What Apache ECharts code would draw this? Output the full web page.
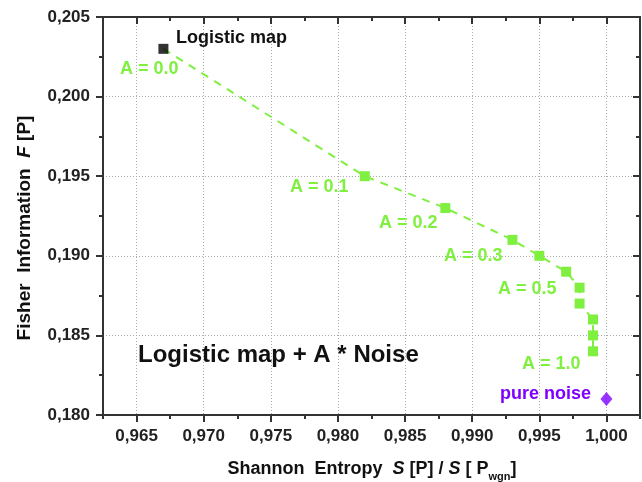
<!DOCTYPE html>
<html><head><meta charset="utf-8">
<script src="https://cdn.jsdelivr.net/npm/echarts@6/dist/echarts.min.js"></script>
<style>html,body{margin:0;padding:0;background:#fff}#c{width:642px;height:482px}</style>
</head><body><div id="c"></div>
<script>
// ---- data ----
const entropy = [0.967, 0.982, 0.988, 0.993, 0.995, 0.997, 0.998, 0.998, 0.999, 0.999, 0.999];
const fisher  = [0.203, 0.195, 0.193, 0.191, 0.190, 0.189, 0.188, 0.187, 0.186, 0.185, 0.184];
const logisticPoint = [0.967, 0.203];
const noisePoint = [1.000, 0.181];
const xMajorTicks = [0.965, 0.970, 0.975, 0.980, 0.985, 0.990, 0.995, 1.000];
const xMinorTicks = [0.9625, 0.9675, 0.9725, 0.9775, 0.9825, 0.9875, 0.9925, 0.9975, 1.0025];
const yMajorTicks = [0.180, 0.185, 0.190, 0.195, 0.200, 0.205];
const yMinorTicks = [0.1825, 0.1875, 0.1925, 0.1975, 0.2025];

const FONT = '"Liberation Sans", Arial, sans-serif';
const GREEN = '#80f040';
const PURPLE = '#7f00ff';
const fmt = v => v.toFixed(3).replace('.', ',');

function xAx(pos, custom, len, inside, showLine, showLabel, split) {
  return {
    type: 'value', position: pos, min: 0.9625, max: 1.0025, interval: 0.0025,
    axisLine: {show: showLine, onZero: false, lineStyle: {color: '#333', width: 2}},
    axisTick: {show: true, inside: inside, length: len, customValues: custom, lineStyle: {color: '#333', width: 2}},
    axisLabel: showLabel ? {show: true, customValues: xMajorTicks, formatter: fmt, margin: 13,
      fontFamily: FONT, fontWeight: 'bold', fontSize: 17, color: '#222'} : {show: false},
    splitLine: {show: split, lineStyle: {color: '#aaa', type: [1, 2], width: 1}}
  };
}
function yAx(pos, custom, len, inside, showLine, showLabel, split) {
  return {
    type: 'value', position: pos, min: 0.180, max: 0.205, interval: 0.0025,
    axisLine: {show: showLine, onZero: false, lineStyle: {color: '#333', width: 2}},
    axisTick: {show: true, inside: inside, length: len, customValues: custom, lineStyle: {color: '#333', width: 2}},
    axisLabel: showLabel ? {show: true, customValues: yMajorTicks, formatter: fmt, margin: 13,
      fontFamily: FONT, fontWeight: 'bold', fontSize: 17, color: '#222'} : {show: false},
    splitLine: {show: split, lineStyle: {color: '#aaa', type: [1, 2], width: 1}}
  };
}

const chart = echarts.init(document.getElementById('c'), null, {renderer: 'canvas'});
const lineData = entropy.map((x, i) => i === 0 ? {value: [x, fisher[i]], symbol: 'none'} : [x, fisher[i]]);

function txt(text, x, y, color, size, opts) {
  return Object.assign({type: 'text', x: x, y: y, z: 100,
    style: {text: text, fill: color, font: 'bold ' + size + 'px ' + FONT, textAlign: 'left', textVerticalAlign: 'middle'}}, opts || {});
}

chart.setOption({
  animation: false,
  backgroundColor: '#fff',
  grid: {left: 103, right: 2, top: 17, bottom: 67, containLabel: false},
  xAxis: [
    xAx('bottom', xMajorTicks, 7, false, true, true, true),
    xAx('bottom', xMinorTicks, 4, false, false, false, false),
    xAx('top', xMajorTicks, 7, true, true, false, false),
    xAx('top', xMinorTicks, 4, true, false, false, false)
  ],
  yAxis: [
    yAx('left', yMajorTicks, 7, false, true, true, true),
    yAx('left', yMinorTicks, 4, false, false, false, false),
    yAx('right', yMajorTicks, 7, true, true, false, false),
    yAx('right', yMinorTicks, 4, true, false, false, false)
  ],
  series: [
    {type: 'line', data: lineData, xAxisIndex: 0, yAxisIndex: 0, z: 5,
     lineStyle: {color: GREEN, width: 2, type: [8, 7]},
     symbol: 'rect', symbolSize: 10, itemStyle: {color: GREEN}, showSymbol: true},
    {type: 'scatter', data: [logisticPoint], xAxisIndex: 0, yAxisIndex: 0, z: 6,
     symbol: 'rect', symbolSize: 10, itemStyle: {color: '#000'}},
    {type: 'scatter', data: [noisePoint], xAxisIndex: 0, yAxisIndex: 0, z: 6,
     symbol: 'diamond', symbolSize: [12, 14], itemStyle: {color: PURPLE}}
  ],
  graphic: [
    txt('Logistic map', 176, 38, '#111', 18),
    txt('A = 0.0', 120, 69, GREEN, 18),
    txt('A = 0.1', 290, 187, GREEN, 18),
    txt('A = 0.2', 379, 223, GREEN, 18),
    txt('A = 0.3', 444, 256, GREEN, 18),
    txt('A = 0.5', 498, 289, GREEN, 18),
    txt('A = 1.0', 522, 364, GREEN, 18),
    txt('pure noise', 500, 394, PURPLE, 18),
    txt('Logistic map + A * Noise', 138, 355, '#111', 24),
    {type: 'text', x: 372, y: 469, z: 100,
     style: {text: '{b|Shannon  Entropy  }{i|S}{b| [P] / }{i|S}{b| [ P}{s|wgn}{b|]}',
       textAlign: 'center', textVerticalAlign: 'middle',
       rich: {
         b: {font: 'bold 18px ' + FONT, fill: '#111', lineHeight: 22},
         i: {font: 'italic bold 18px ' + FONT, fill: '#111', lineHeight: 22},
         s: {font: 'bold 11px ' + FONT, fill: '#111', lineHeight: 11, padding: [16, 0, 0, 0]}
       }}},
    {type: 'text', x: 25, y: 228, rotation: Math.PI / 2, z: 100,
     style: {text: '{b|Fisher  Information  }{i|F}{b| [P]}',
       textAlign: 'center', textVerticalAlign: 'middle',
       rich: {
         b: {font: 'bold 19px ' + FONT, fill: '#111'},
         i: {font: 'italic bold 19px ' + FONT, fill: '#111'}
       }}}
  ]
});
</script>
</body></html>
